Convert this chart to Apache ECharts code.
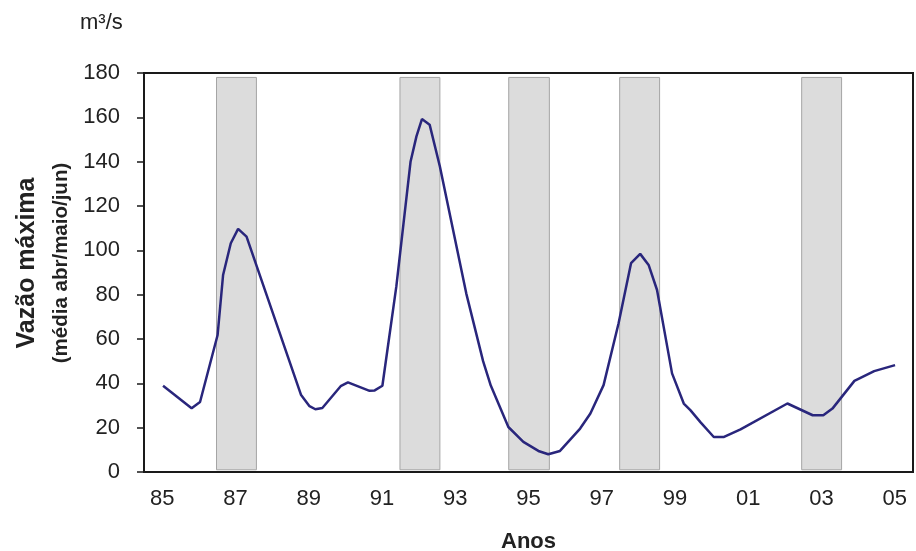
<!DOCTYPE html>
<html>
<head>
<meta charset="utf-8">
<script src="https://cdn.jsdelivr.net/npm/echarts@6/dist/echarts.min.js"></script>
<style>
  html, body { margin: 0; padding: 0; background: #fff; }
  #main { width: 916px; height: 551px; }
</style>
</head>
<body>
<div id="main"></div>
<script>
var myChart = echarts.init(document.getElementById('main'));

// category labels (one per year, 1985..2005)
var yearLabels = ['85','86','87','88','89','90','91','92','93','94','95',
                  '96','97','98','99','00','01','02','03','04','05'];

// line vertices: position in years and discharge (m³/s)
var lineYears = [1985.02, 1985.80, 1986.03, 1986.51, 1986.66, 1986.87, 1987.07, 1987.30,
                 1988.79, 1989.02, 1989.18, 1989.37, 1989.87, 1990.07, 1990.66, 1990.80,
                 1991.01, 1991.39, 1991.78, 1991.94, 1992.09, 1992.30, 1992.58, 1993.30,
                 1993.76, 1993.97, 1994.45, 1994.86, 1995.27, 1995.54, 1995.86, 1996.41,
                 1996.69, 1997.05, 1997.46, 1997.80, 1998.05, 1998.28, 1998.51, 1998.92,
                 1999.24, 1999.42, 1999.70, 2000.06, 2000.34, 2000.79, 2002.07, 2002.76,
                 2003.05, 2003.30, 2003.90, 2004.44, 2005.01];
var lineValues = [38.9, 28.8, 31.6, 61.8, 88.9, 103.2, 109.7, 106.2,
                  34.7, 29.7, 28.3, 28.9, 38.7, 40.4, 36.6, 36.8,
                  38.9, 83.6, 140.1, 151.4, 159.2, 156.7, 137.8, 80.6,
                  50.0, 39.0, 20.3, 13.6, 9.5, 8.0, 9.5, 19.6,
                  26.4, 39.2, 67.1, 94.2, 98.4, 93.4, 82.1, 44.5,
                  30.9, 27.9, 22.4, 15.8, 15.8, 19.2, 30.9, 25.6,
                  25.6, 28.6, 41.1, 45.5, 48.2];

// shaded periods
var bandStart = [1986.48, 1991.49, 1994.46, 1997.49, 2002.46];
var bandEnd   = [1987.57, 1992.58, 1995.57, 1998.58, 2003.55];
var bandLow = 1;
var bandHigh = 178;

var lineData = [];
for (var i = 0; i < lineYears.length; i++) {
    lineData.push([lineYears[i], lineValues[i]]);
}
var bands = [];
for (var j = 0; j < bandStart.length; j++) {
    bands.push([{xAxis: bandStart[j], yAxis: bandLow}, {xAxis: bandEnd[j], yAxis: bandHigh}]);
}

var font = 'Liberation Sans, Arial, sans-serif';

var option = {
    animation: false,
    textStyle: { fontFamily: font },
    grid: {
        left: 144, right: 3, top: 73, bottom: 79,
        outerBoundsMode: 'none',
        containLabel: false,
        show: true, borderColor: '#1a1a1a', borderWidth: 2
    },
    graphic: [
        {
            type: 'text', left: 80, top: 12,
            style: { text: 'm³/s', fontSize: 22, fontFamily: font, fill: '#222' }
        },
        // y axis title, two rotated lines
        {
            type: 'text', x: 27, y: 263, rotation: Math.PI / 2,
            style: { text: 'Vazão máxima', fontSize: 25, fontWeight: 'bold', fontFamily: font,
                     fill: '#222', align: 'center', verticalAlign: 'middle' }
        },
        {
            type: 'text', x: 61, y: 263, rotation: Math.PI / 2,
            style: { text: '(média abr/maio/jun)', fontSize: 20.5, fontWeight: 'bold', fontFamily: font,
                     fill: '#222', align: 'center', verticalAlign: 'middle' }
        }
    ],
    xAxis: [
        {
            type: 'category',
            data: yearLabels,
            boundaryGap: true,
            name: 'Anos',
            nameLocation: 'middle',
            nameGap: 59,
            nameTextStyle: { fontSize: 22, fontWeight: 'bold', color: '#222', fontFamily: font },
            axisLine: { lineStyle: { color: '#1a1a1a', width: 2 } },
            axisTick: { interval: 0, length: 6, lineStyle: { color: '#1a1a1a', width: 1.5 } },
            axisLabel: { interval: 1, margin: 16, fontSize: 22, color: '#222', fontFamily: font },
            splitLine: { show: false }
        },
        {
            type: 'value',
            min: 1984.5,
            max: 2005.5,
            show: false
        }
    ],
    yAxis: {
        type: 'value',
        min: 0, max: 180, interval: 20,
        axisLine: { show: true, lineStyle: { color: '#1a1a1a', width: 2 } },
        axisTick: { show: true, length: 7, lineStyle: { color: '#1a1a1a', width: 1.5 } },
        axisLabel: { margin: 24, fontSize: 22, color: '#222', fontFamily: font },
        splitLine: { show: false }
    },
    series: [{
        type: 'line',
        xAxisIndex: 1,
        data: lineData,
        showSymbol: false,
        lineStyle: { color: '#29267c', width: 2.5 },
        z: 3,
        markArea: {
            silent: true,
            itemStyle: { color: '#dcdcdc', borderColor: '#a5a5a5', borderWidth: 1 },
            data: bands
        }
    }]
};

myChart.setOption(option);
</script>
</body>
</html>
